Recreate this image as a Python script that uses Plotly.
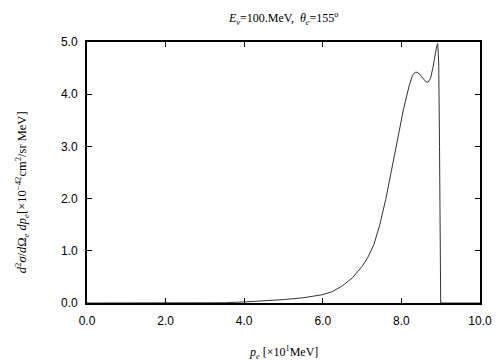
import plotly.graph_objects as go

# momentum p_e [x10 MeV]
p_e = [0.0, 3.0, 3.5, 4.0, 4.5, 5.0, 5.5, 6.0, 6.25, 6.5, 6.75, 7.0, 7.15, 7.3, 7.45,
       7.6, 7.75, 7.9, 8.05, 8.2, 8.28, 8.35, 8.4, 8.47, 8.55, 8.62, 8.68, 8.74,
       8.8, 8.86, 8.9, 8.925, 8.95, 8.97, 8.985, 9.0, 10.0]
# cross section [x10^-42 cm^2/sr MeV]
xsec = [0.0, 0.0, 0.005, 0.02, 0.04, 0.065, 0.1, 0.16, 0.22, 0.33, 0.48, 0.7, 0.88, 1.12, 1.5,
        1.98, 2.55, 3.13, 3.7, 4.17, 4.36, 4.42, 4.42, 4.38, 4.3, 4.24, 4.23, 4.3,
        4.5, 4.78, 4.93, 4.97, 4.6, 3.0, 1.2, 0.0, 0.0]

x_ticks = [0, 2, 4, 6, 8, 10]
x_tick_labels = ["0.0", "2.0", "4.0", "6.0", "8.0", "10.0"]
y_ticks = [0, 1, 2, 3, 4, 5]
y_tick_labels = ["0.0", "1.0", "2.0", "3.0", "4.0", "5.0"]

fig = go.Figure()
fig.add_trace(go.Scatter(x=p_e, y=xsec, mode="lines",
                         line=dict(color="#333333", width=1), showlegend=False))

axis_common = dict(showline=True, linecolor="black", linewidth=2, mirror="ticks",
                   ticks="inside", ticklen=5, tickcolor="black", tickwidth=1,
                   showgrid=False, zeroline=False,
                   tickfont=dict(family="Liberation Sans, Arial", size=12, color="black"))

fig.update_xaxes(range=[0, 10], tickvals=x_ticks, ticktext=x_tick_labels,
                 ticklabelstandoff=6, **axis_common)
fig.update_yaxes(range=[0, 5], tickvals=y_ticks, ticktext=y_tick_labels,
                 ticklabelstandoff=5, **axis_common)

serif = dict(family="Liberation Serif, Times New Roman", size=12, color="black")
# page body adds an 8px offset, so the figure is 8px smaller and margins are shifted
fig.update_layout(
    width=496, height=352,
    margin=dict(l=79, r=24, t=34, b=57),
    plot_bgcolor="white", paper_bgcolor="white",
    annotations=[
        dict(text="<i>E</i><sub><i>ν</i></sub>=100.MeV,  <i>θ</i><sub><i>e</i></sub>=155<sup>o</sup>",
             xref="paper", yref="paper", x=0.5, y=1.09, xanchor="center", yanchor="middle",
             showarrow=False, font=serif),
        dict(text="<i>p</i><sub><i>e</i></sub> [×10<sup>1</sup>MeV]",
             xref="paper", yref="paper", x=0.5, y=-0.188, xanchor="center", yanchor="middle",
             showarrow=False, font=serif),
        dict(text="<i>d</i><sup>2</sup><i>σ</i>/<i>d</i>Ω<sub><i>e</i></sub> <i>dp</i><sub><i>e</i></sub>[×10<sup>−42</sup>cm<sup>2</sup>/sr MeV]",
             xref="paper", yref="paper", x=-0.165, y=0.425, xanchor="center", yanchor="middle",
             textangle=-90, showarrow=False, font=dict(family="Liberation Serif, Times New Roman", size=12.5, color="black")),
    ],
)

fig.write_html("out.html")
